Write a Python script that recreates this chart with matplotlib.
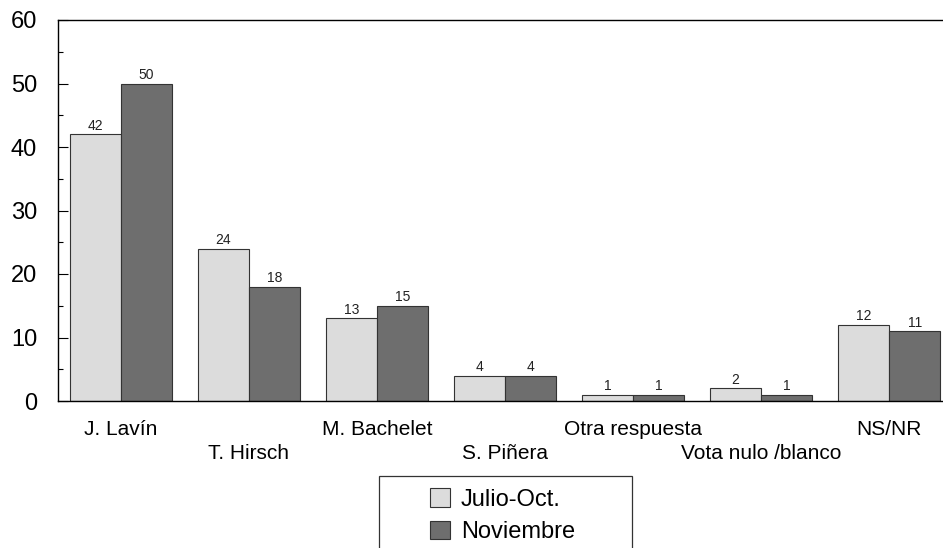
import matplotlib.pyplot as plt
import matplotlib.transforms as mtransforms
from matplotlib.patches import Rectangle
import numpy as np

# Values
candidatos = ['J. Lavín', 'T. Hirsch', 'M. Bachelet', 'S. Piñera',
              'Otra respuesta', 'Vota nulo /blanco', 'NS/NR']
julio_oct = [42, 24, 13, 4, 1, 2, 12]
noviembre = [50, 18, 15, 4, 1, 1, 11]

plt.rcParams['font.family'] = ['Liberation Sans', 'DejaVu Sans']


def do_plot():
    fig = plt.figure(figsize=(9.43, 5.48), dpi=100)
    ax = fig.add_axes([58 / 943, 1 - 401 / 548, 1 - 58 / 943, (401 - 20) / 548])
    x = np.arange(len(candidatos))
    w = 0.4
    b1 = ax.bar(x - w / 2, julio_oct, w, color='#dcdcdc', edgecolor='#333333',
                linewidth=0.8, label='Julio-Oct.')
    b2 = ax.bar(x + w / 2, noviembre, w, color='#6e6e6e', edgecolor='#333333',
                linewidth=0.8, label='Noviembre')
    ax.bar_label(b1, padding=1, fontsize=10, color='#222222')
    ax.bar_label(b2, padding=1, fontsize=10, color='#222222')

    ax.set_ylim(0, 60)
    ax.set_xlim(-0.49, 6.42)
    ax.set_yticks(range(0, 61, 10))
    ax.set_yticks(range(5, 60, 10), minor=True)
    ax.tick_params(axis='y', which='major', direction='in', length=7.5,
                   labelsize=17, pad=15, width=0.8)
    ax.tick_params(axis='y', which='minor', direction='in', length=3.8, width=0.8)
    ax.set_xticks(x)
    ax.set_xticklabels(candidatos, fontsize=15)
    ax.tick_params(axis='x', length=0, pad=14)
    # stagger every second label one row down
    shift = mtransforms.ScaledTranslation(0, -0.24, fig.dpi_scale_trans)
    for i, lab in enumerate(ax.get_xticklabels()):
        if i % 2 == 1:
            lab.set_transform(lab.get_transform() + shift)
    ax.spines['right'].set_visible(False)
    for s in ['left', 'top', 'bottom']:
        ax.spines[s].set_linewidth(1.0)

    # legend frame runs off the bottom of the figure
    fig.patches.append(Rectangle((379 / 943, -0.05), 253 / 943, 0.05 + (548 - 476) / 548,
                                 transform=fig.transFigure, fill=False,
                                 edgecolor='#333333', linewidth=0.9))
    fig.legend(handles=[b1, b2], loc='upper left',
               bbox_to_anchor=(430 / 943, 1 - 488 / 548), frameon=False,
               fontsize=17, handlelength=0.85, handleheight=0.85,
               handletextpad=0.45, labelspacing=0.42, borderpad=0,
               borderaxespad=0)

    plt.savefig('out.png', dpi=100)


do_plot()
